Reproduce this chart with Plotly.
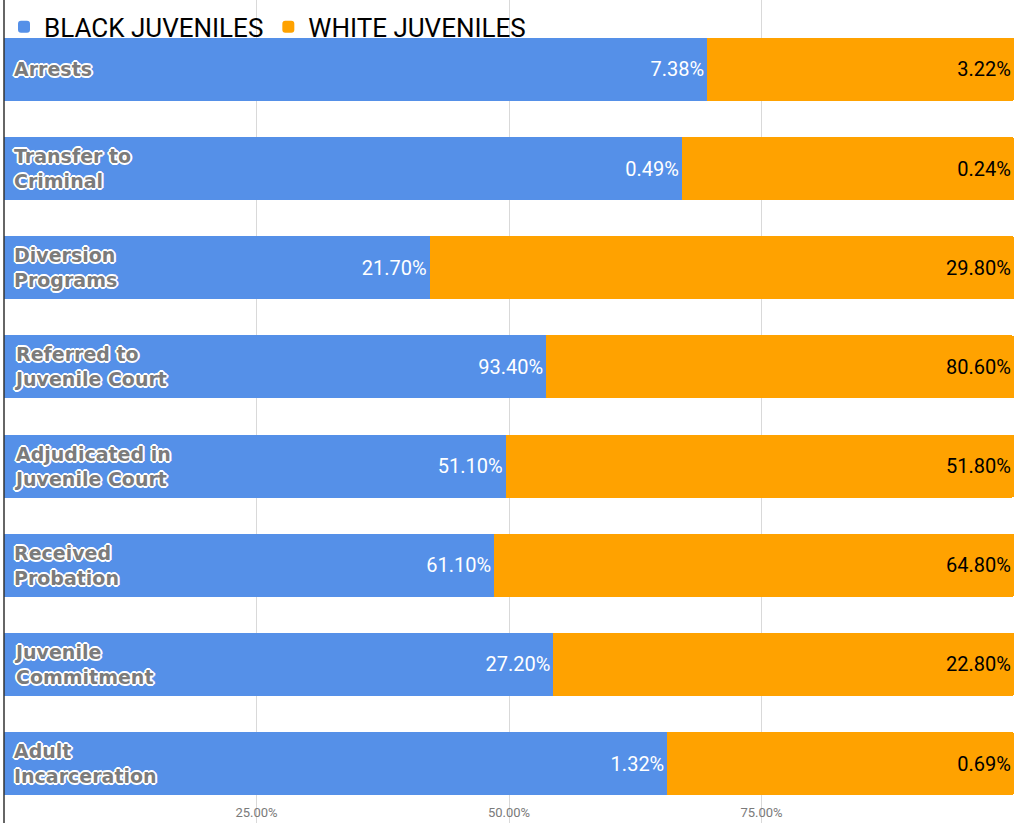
import plotly.graph_objects as go

# Juvenile justice stages and the rate at each stage for each group
stages = [
    "Arrests",
    "Transfer to<br>Criminal",
    "Diversion<br>Programs",
    "Referred to<br>Juvenile Court",
    "Adjudicated in<br>Juvenile Court",
    "Received<br>Probation",
    "Juvenile<br>Commitment",
    "Adult<br>Incarceration",
]
black_rates = [7.38, 0.49, 21.70, 93.40, 51.10, 61.10, 27.20, 1.32]
white_rates = [3.22, 0.24, 29.80, 80.60, 51.80, 64.80, 22.80, 0.69]

x_ticks = [25, 50, 75]
x_tick_labels = ["25.00%", "50.00%", "75.00%"]

BLUE = "#5590e8"
ORANGE = "#ffa200"

cat_ids = list(range(len(stages)))

fig = go.Figure()
fig.add_trace(go.Bar(
    name="BLACK JUVENILES",
    y=cat_ids, x=black_rates, orientation="h",
    marker=dict(color=BLUE, line=dict(width=0)),
    text=[f"{v:.2f}%" for v in black_rates],
    textposition="inside", insidetextanchor="end",
    textfont=dict(family="Roboto", size=20, color="white"),
    hoverinfo="skip",
))
fig.add_trace(go.Bar(
    name="WHITE JUVENILES",
    y=cat_ids, x=white_rates, orientation="h",
    marker=dict(color=ORANGE, line=dict(width=0)),
    text=[f"{v:.2f}%" for v in white_rates],
    textposition="inside", insidetextanchor="end",
    textfont=dict(family="Roboto", size=20, color="black"),
    hoverinfo="skip",
))

# Stage names drawn inside the left end of each bar, gray with a white outline
offsets = [(-1, 0), (1, 0), (0, -1), (0, 1), (-1, -1), (1, 1), (-1, 1), (1, -1),
           (-2, 0), (2, 0), (0, -2), (0, 2)]
outline = ", ".join(f"{dx}px {dy}px 0 #ffffff" for dx, dy in offsets)
for i, name in enumerate(stages):
    fig.add_annotation(
        x=0, y=i, xref="x", yref="y",
        text=f"<b>{name}</b>", showarrow=False,
        xanchor="left", yanchor="middle", align="left", xshift=8,
        font=dict(family="DejaVu Sans", size=19, color="#7b7b7b", shadow=outline),
    )

fig.update_layout(
    width=1025, height=823,
    margin=dict(l=4, r=11, t=0, b=0, autoexpand=False),
    paper_bgcolor="white", plot_bgcolor="white",
    barmode="stack", barnorm="percent", bargap=0.365,
    barcornerradius=2,
    showlegend=True,
    legend=dict(
        orientation="h", x=0, y=0.996, xanchor="left", yanchor="top",
        font=dict(family="Roboto", size=26, color="black"),
        bgcolor="rgba(0,0,0,0)", itemwidth=30, traceorder="normal",
    ),
    xaxis=dict(
        range=[0, 100], tickvals=x_ticks, ticktext=x_tick_labels,
        ticklabelposition="inside", tickfont=dict(family="Roboto", size=13, color="#7a7a7a"),
        showgrid=True, gridcolor="#d9d9d9", gridwidth=1,
        zeroline=False, showline=False, ticks="",
    ),
    yaxis=dict(
        range=[7.6, -0.7], showticklabels=False, showgrid=False,
        zeroline=False, showline=False, ticks="",
    ),
    shapes=[dict(type="line", xref="paper", yref="paper", x0=0, x1=0, y0=0, y1=1,
                 line=dict(color="#333333", width=1.5), layer="above")],
)

fig.write_html("out.html")
